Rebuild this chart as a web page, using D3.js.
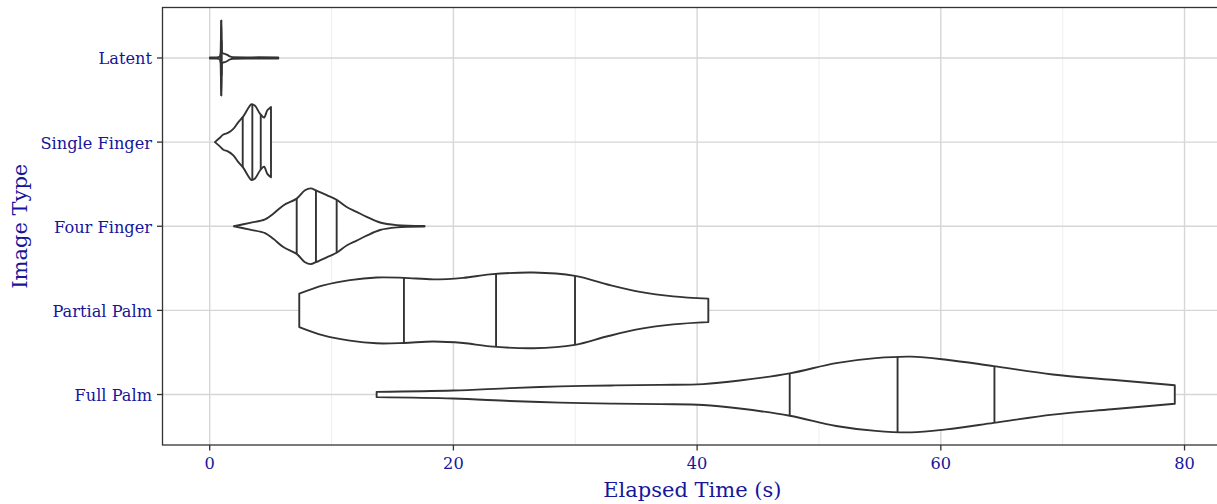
<!DOCTYPE html>
<html>
<head>
<meta charset="utf-8">
<title>Elapsed Time by Image Type</title>
<script src="https://d3js.org/d3.v7.min.js"></script>
<style>
  body { margin: 0; background: #fff; }
  text { font-family: "DejaVu Serif", serif; fill: #16169a; }
</style>
</head>
<body>
<div id="chart"></div>
<script>

// カテゴリ（上から順）
var categories = ["Latent", "Single Finger", "Four Finger", "Partial Palm", "Full Palm"];

// バイオリンの輪郭 [経過時間, 相対幅(0-1)]  画像から読み取り
var latentProfile = [
  [0.02, 0.015], [0.6, 0.016], [0.8, 0.03], [0.9, 0.14], [0.95, 1.0], [1.0, 0.16],
  [1.08, 0.12], [1.25, 0.11], [1.45, 0.08], [1.65, 0.04], [1.9, 0.02], [3.0, 0.016],
  [4.0, 0.018], [5.63, 0.016]
];
var singleProfile = [
  [0.43, 0.0], [0.79, 0.1], [1.12, 0.2], [1.53, 0.25], [1.94, 0.35], [2.35, 0.53],
  [2.76, 0.68], [3.17, 0.9], [3.42, 1.0], [3.72, 0.96], [4.13, 0.75], [4.46, 0.65],
  [4.73, 0.84], [5.03, 0.93]
];
var fourProfile = [
  [1.99, 0.0], [3.31, 0.09], [4.54, 0.18], [5.22, 0.33], [6.04, 0.55], [7.14, 0.73],
  [7.82, 0.95], [8.29, 1.0], [8.72, 0.95], [9.6, 0.82], [10.42, 0.7], [11.24, 0.51],
  [12.06, 0.38], [12.88, 0.25], [13.98, 0.1], [15.35, 0.03], [17.63, 0.008]
];
var partialProfile = [
  [7.35, 0.44], [9.32, 0.66], [11.51, 0.8], [13.7, 0.87], [15.94, 0.86], [18.35, 0.82],
  [20.8, 0.86], [23.0, 0.95], [26.56, 1.0], [29.98, 0.91], [32.58, 0.69], [35.31, 0.49],
  [38.04, 0.37], [40.92, 0.31]
];
var fullProfile = [
  [13.7, 0.07], [19.99, 0.105], [24.64, 0.17], [28.75, 0.215], [33.0, 0.24], [37.0, 0.255],
  [40.5, 0.275], [43.5, 0.37], [47.6, 0.56], [51.41, 0.83], [54.65, 0.96],
  [57.55, 1.0], [60.46, 0.92], [64.34, 0.75], [69.19, 0.53], [74.03, 0.39], [79.2, 0.245]
];

// 四分位 (25%, 50%, 75%)
var latentQuant = [0.92, 0.95, 0.98];
var singleQuant = [2.71, 3.5, 4.19];
var fourQuant = [7.14, 8.72, 10.42];
var partialQuant = [15.94, 23.5, 29.98];
var fullQuant = [47.6, 56.45, 64.4];

var xTicks = [0, 20, 40, 60, 80];
var xMinorTicks = [10, 30, 50, 70];

var profiles = [latentProfile, singleProfile, fourProfile, partialProfile, fullProfile];
var quantiles = [latentQuant, singleQuant, fourQuant, partialQuant, fullQuant];

// レイアウト
var width = 1217, height = 504;
var panel = { left: 162.5, top: 7.5, right: 1222.3, bottom: 445 };

var svg = d3.select("#chart").append("svg")
  .attr("width", width)
  .attr("height", height);

var x = d3.scaleLinear()
  .domain([-3.873, 83.1])
  .range([panel.left, panel.right]);

var y = d3.scalePoint()
  .domain(categories)
  .range([panel.top, panel.bottom])
  .padding(0.6);

var halfWidth = d3.scaleLinear()
  .domain([0, 1])
  .range([0, y.step() * 0.45]);

// グリッド
var grid = svg.append("g");
grid.selectAll(".minor").data(xMinorTicks).enter().append("line")
  .attr("x1", d => x(d)).attr("x2", d => x(d))
  .attr("y1", panel.top).attr("y2", panel.bottom)
  .attr("stroke", "#ebebeb").attr("stroke-width", 0.8);
grid.selectAll(".major").data(xTicks).enter().append("line")
  .attr("x1", d => x(d)).attr("x2", d => x(d))
  .attr("y1", panel.top).attr("y2", panel.bottom)
  .attr("stroke", "#d6d6d6").attr("stroke-width", 1.4);
grid.selectAll(".hmajor").data(categories).enter().append("line")
  .attr("x1", panel.left).attr("x2", panel.right)
  .attr("y1", d => y(d)).attr("y2", d => y(d))
  .attr("stroke", "#d6d6d6").attr("stroke-width", 1.4);

// バイオリン
var violins = svg.append("g");
categories.forEach(function(cat, i) {
  var cy = y(cat);
  var prof = profiles[i];
  // Latent は鋭いピークなので単調補間、それ以外は滑らかに
  var curve = i === 0 ? d3.curveMonotoneX : d3.curveCatmullRom.alpha(0.5);

  var area = d3.area()
    .x(d => x(d[0]))
    .y0(d => cy - halfWidth(d[1]))
    .y1(d => cy + halfWidth(d[1]))
    .curve(curve);

  violins.append("path")
    .attr("d", area(prof))
    .attr("fill", "white")
    .attr("stroke", "#333333")
    .attr("stroke-width", 1.9)
    .attr("stroke-linejoin", "round");

  // 上側の輪郭から四分位線の高さを求める
  var topLine = d3.line()
    .x(d => x(d[0]))
    .y(d => cy - halfWidth(d[1]))
    .curve(curve);
  var helper = violins.append("path").attr("d", topLine(prof)).attr("fill", "none");
  var node = helper.node();
  var total = node.getTotalLength();

  quantiles[i].forEach(function(q) {
    var px = x(q), lo = 0, hi = total;
    for (var k = 0; k < 40; k++) {
      var mid = (lo + hi) / 2;
      if (node.getPointAtLength(mid).x < px) lo = mid; else hi = mid;
    }
    var h = cy - node.getPointAtLength(lo).y;
    violins.append("line")
      .attr("x1", px).attr("x2", px)
      .attr("y1", cy - h).attr("y2", cy + h)
      .attr("stroke", "#333333")
      .attr("stroke-width", 1.9);
  });
  helper.remove();
});

// パネル枠
svg.append("rect")
  .attr("x", panel.left).attr("y", panel.top)
  .attr("width", panel.right - panel.left)
  .attr("height", panel.bottom - panel.top)
  .attr("fill", "none")
  .attr("stroke", "#333333")
  .attr("stroke-width", 1.3);

// X 軸
var xAxis = svg.append("g");
xAxis.selectAll("line").data(xTicks).enter().append("line")
  .attr("x1", d => x(d)).attr("x2", d => x(d))
  .attr("y1", panel.bottom).attr("y2", panel.bottom + 5.5)
  .attr("stroke", "#333333").attr("stroke-width", 1.3);
xAxis.selectAll("text").data(xTicks).enter().append("text")
  .attr("x", d => x(d))
  .attr("y", 469)
  .attr("text-anchor", "middle")
  .style("font-size", "16.2px")
  .text(d => d);

// Y 軸
var yAxis = svg.append("g");
yAxis.selectAll("line").data(categories).enter().append("line")
  .attr("x1", panel.left - 5.5).attr("x2", panel.left)
  .attr("y1", d => y(d)).attr("y2", d => y(d))
  .attr("stroke", "#333333").attr("stroke-width", 1.3);
yAxis.selectAll("text").data(categories).enter().append("text")
  .attr("x", 152)
  .attr("y", d => y(d) + 6.5)
  .attr("text-anchor", "end")
  .style("font-size", "16.2px")
  .text(d => d);

// 軸タイトル
svg.append("text")
  .attr("x", (panel.left + panel.right) / 2)
  .attr("y", 497)
  .attr("text-anchor", "middle")
  .style("font-size", "21px")
  .text("Elapsed Time (s)");

svg.append("text")
  .attr("transform", "translate(27," + ((panel.top + panel.bottom) / 2) + ") rotate(-90)")
  .attr("text-anchor", "middle")
  .style("font-size", "21px")
  .text("Image Type");

</script>
</body>
</html>
